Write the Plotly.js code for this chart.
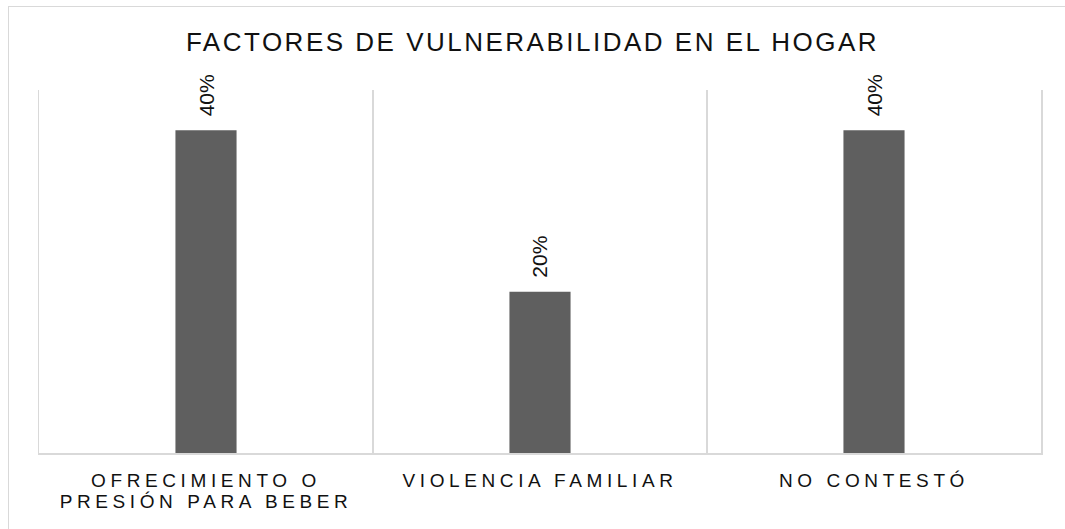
<!DOCTYPE html>
<html>
<head>
<meta charset="utf-8">
<script src="https://cdn.plot.ly/plotly-3.0.1.min.js"></script>
<style>
  html, body { margin: 0; padding: 0; background: #fff; overflow: hidden; }
  #frame { position: absolute; left: 8px; top: 6px; width: 3000px; height: 3000px;
           border-left: 1.5px solid #d9d9d9; border-top: 1.5px solid #d9d9d9; pointer-events: none; z-index: 2; }
  #chart { position: absolute; left: 0; top: 0; width: 1065px; height: 529px; }
  .xtick text { letter-spacing: 4.6px; }
  .gtitle { letter-spacing: 2.5px; }
</style>
</head>
<body>
<div id="chart"></div>
<div id="frame"></div>
<script>
const categories = ["OFRECIMIENTO O<br>PRESIÓN PARA BEBER", "VIOLENCIA FAMILIAR", "NO CONTESTÓ"];
const values = [0.40, 0.20, 0.40];
const valueLabels = ["40%", "20%", "40%"];
const chartTitle = "FACTORES DE VULNERABILIDAD EN EL HOGAR";

const FONT = "Liberation Sans, Arial, sans-serif";

const trace = {
  type: "bar",
  x: categories,
  y: values,
  width: 0.183,
  marker: { color: "#5f5f5f" },
  hoverinfo: "none"
};

const annotations = categories.map((c, i) => ({
  x: c, y: values[i], xref: "x", yref: "y",
  text: valueLabels[i], showarrow: false,
  textangle: -90, xanchor: "center", yanchor: "bottom", yshift: 12,
  font: { family: FONT, size: 21, color: "#111" }
}));

const layout = {
  width: 1065, height: 529,
  margin: { l: 39, r: 24, t: 90, b: 76 },
  paper_bgcolor: "rgba(0,0,0,0)", plot_bgcolor: "rgba(0,0,0,0)",
  showlegend: false,
  title: {
    text: chartTitle,
    font: { family: FONT, size: 26, color: "#111" },
    x: 0.5, xanchor: "center", xref: "container",
    y: 1 - 41.5 / 529, yanchor: "middle", yref: "container"
  },
  xaxis: {
    type: "category",
    range: [-0.5, 2.5],
    tickson: "boundaries",
    showgrid: true, gridcolor: "#d9d9d9", gridwidth: 1.5,
    showline: true, linecolor: "#d9d9d9", linewidth: 1.5,
    ticks: "", ticklen: 0, ticklabelstandoff: 10,
    tickfont: { family: FONT, size: 19, color: "#111" },
    fixedrange: true
  },
  yaxis: {
    range: [0, 0.45],
    showgrid: false, zeroline: false,
    showline: true, mirror: "all", linecolor: "#d9d9d9", linewidth: 1.5,
    showticklabels: false, ticks: "",
    fixedrange: true
  },
  annotations: annotations
};

Plotly.newPlot("chart", [trace], layout, { staticPlot: true, displayModeBar: false }).then(() => {
  // tighten line spacing of the two-line category label
  document.querySelectorAll(".xtick text tspan.line").forEach((t, i) => {
    const dy = t.getAttribute("dy");
    if (dy && parseFloat(dy) > 0) t.setAttribute("dy", "1.1em");
  });
});
</script>
</body>
</html>
